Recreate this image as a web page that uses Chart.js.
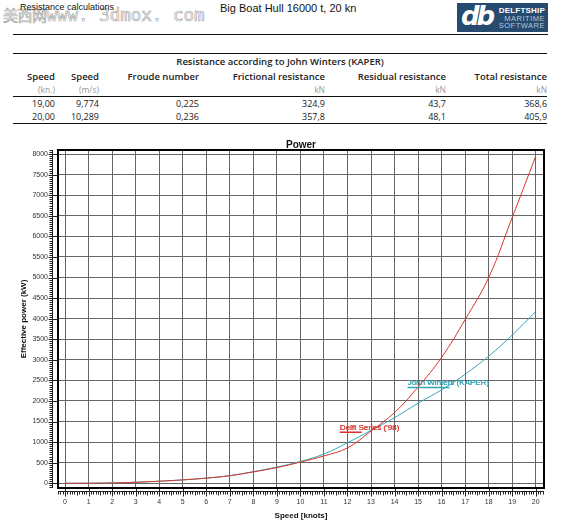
<!DOCTYPE html>
<html>
<head>
<meta charset="utf-8">
<title>Power</title>
<script src="https://cdn.jsdelivr.net/npm/chart.js@4.4.0/dist/chart.umd.min.js"></script>
<style>
  html, body { margin: 0; padding: 0; background: #fff; }
  body { width: 567px; height: 525px; position: relative; overflow: hidden; font-family: "Open Sans", sans-serif; color: #222; }
  .abs { position: absolute; white-space: nowrap; }
  #wm { left: 3px; top: 2px; height: 26px; line-height: 26px; color: transparent; -webkit-text-stroke: 0.7px #aaa; }
  #wm .cjk { font-family: "Noto Sans CJK SC", sans-serif; font-size: 15px; letter-spacing: -0.5px; vertical-align: top; }
  #wm .lat { font-family: "DejaVu Sans Mono", monospace; font-size: 17.5px; vertical-align: top; }
  #docTitle { left: 20px; top: 1px; font-family: "Liberation Sans", Arial, sans-serif; font-size: 9px; line-height: 12px; color: #111; }
  #hullTitle { left: 220px; top: 2px; font-family: "Liberation Sans", Arial, sans-serif; font-size: 11px; line-height: 13px; color: #111; }
  #logo { left: 457px; top: 3px; width: 91px; height: 29px; background: #264b6f; }
  #logo .db { position: absolute; left: 4px; top: -3px; font-family: "DejaVu Sans", sans-serif; font-weight: bold; font-style: italic;
              font-size: 26px; line-height: 32px; color: #fff; letter-spacing: -3px; }
  #logo .t { position: absolute; right: 3px; font-family: "Liberation Sans", Arial, sans-serif; font-size: 7.5px; line-height: 8px; letter-spacing: 0.5px; }
  #logo .t1 { top: 4px; color: #fff; font-weight: bold; font-size: 8px; letter-spacing: 0.2px; }
  #logo .t2 { top: 11.5px; color: #b4c6d9; }
  #logo .t3 { top: 19px; color: #b4c6d9; }
  #headLine { left: 13px; top: 33.5px; width: 535px; height: 1.5px; background: #111; }

  #res { position: absolute; left: 13px; top: 52.5px; border-collapse: collapse; table-layout: fixed; width: 534px;
         border-top: 1.5px solid #111; border-bottom: 1.5px solid #111; }
  #res th, #res td { padding: 0; text-align: right; white-space: nowrap; vertical-align: middle; }
  #res tr.title th { text-align: center; font-weight: 600; font-size: 9.5px; height: 15px; line-height: 15px; }
  #res tr.head th { font-weight: 600; font-size: 9.5px; height: 15.5px; line-height: 15.5px; }
  #res tr.units td { color: #9a9a9a; font-size: 8.5px; height: 12px; line-height: 12px; border-bottom: 1px solid #111; }
  #res tbody td { font-size: 9px; height: 13px; line-height: 13px; color: #222; }

  #chartBox { position: absolute; left: 0; top: 135px; width: 567px; height: 390px; }
</style>
</head>
<body>
  <div class="abs" id="wm"><span class="cjk">美西网</span><span class="lat">www. 3dmox. com</span></div>
  <div class="abs" id="docTitle">Resistance calculations</div>
  <div class="abs" id="hullTitle">Big Boat Hull 16000 t, 20 kn</div>
  <div class="abs" id="logo">
    <span class="db">db</span>
    <span class="t t1">DELFTSHIP</span>
    <span class="t t2">MARITIME</span>
    <span class="t t3">SOFTWARE</span>
  </div>
  <div class="abs" id="headLine"></div>

  <table id="res">
    <colgroup>
      <col style="width:42px"><col style="width:44px"><col style="width:100px">
      <col style="width:126px"><col style="width:121px"><col style="width:101px">
    </colgroup>
    <thead>
      <tr class="title"><th colspan="6">Resistance according to John Winters (KAPER)</th></tr>
      <tr class="head" id="headRow"></tr>
      <tr class="units" id="unitRow"></tr>
    </thead>
    <tbody id="rows"></tbody>
  </table>

  <div id="chartBox"><canvas id="powerChart"></canvas></div>

<script>
// Table data
const tableHeads = ['Speed', 'Speed', 'Froude number', 'Frictional resistance', 'Residual resistance', 'Total resistance'];
const tableUnits = ['(kn.)', '(m/s)', '', 'kN', 'kN', 'kN'];
const tableSpeedKn = ['19,00', '20,00'];
const tableSpeedMs = ['9,774', '10,289'];
const tableFroude = ['0,225', '0,236'];
const tableFrictional = ['324,9', '357,8'];
const tableResidual = ['43,7', '48,1'];
const tableTotal = ['368,6', '405,9'];

// Chart data: effective power (kW) per speed (knots)
const speeds = [0, 1, 2, 3, 4, 5, 6, 7, 8, 9, 10, 11, 12, 13, 14, 15, 16, 17, 18, 19, 20];
const delftPower = [0, 1, 8, 25, 50, 82, 125, 183, 276, 380, 515, 665, 860, 1270, 1720, 2340, 3060, 3980, 5000, 6460, 7950];
const wintersPower = [0, 1, 8, 25, 50, 82, 125, 187, 283, 395, 530, 712, 985, 1285, 1595, 1945, 2270, 2650, 3090, 3603, 4176];
const xTickValues = [0, 1, 2, 3, 4, 5, 6, 7, 8, 9, 10, 11, 12, 13, 14, 15, 16, 17, 18, 19, 20];
const yTickValues = [0, 500, 1000, 1500, 2000, 2500, 3000, 3500, 4000, 4500, 5000, 5500, 6000, 6500, 7000, 7500, 8000];

const delftColor = '#d9352b';
const wintersColor = '#33a6b6';

// Build table
document.getElementById('headRow').innerHTML = tableHeads.map(h => `<th>${h}</th>`).join('');
document.getElementById('unitRow').innerHTML = tableUnits.map(u => `<td>${u}</td>`).join('');
const rowsBody = document.getElementById('rows');
tableSpeedKn.forEach((kn, i) => {
  const tr = document.createElement('tr');
  tr.innerHTML = `
    <td>${kn}</td>
    <td>${tableSpeedMs[i]}</td>
    <td>${tableFroude[i]}</td>
    <td>${tableFrictional[i]}</td>
    <td>${tableResidual[i]}</td>
    <td>${tableTotal[i]}</td>
  `;
  rowsBody.appendChild(tr);
});

// Plot frame, rulers with minor ticks, and the curve labels
const framePlugin = {
  id: 'frame',
  afterDraw(chart) {
    const { ctx, chartArea: a, scales: { x, y } } = chart;
    ctx.save();
    ctx.strokeStyle = '#222';
    ctx.lineWidth = 1;

    // x ruler under the plot
    const ry = a.bottom + 3.5;
    ctx.beginPath();
    ctx.moveTo(a.left, ry);
    ctx.lineTo(a.right, ry);
    for (let k = Math.ceil(x.min * 10); k <= Math.floor(x.max * 10); k++) {
      const px = Math.round(x.getPixelForValue(k / 10)) + 0.5;
      if (k % 10 === 0) {
        ctx.moveTo(px, a.bottom);
        ctx.lineTo(px, ry + 5);
      } else {
        ctx.moveTo(px, ry);
        ctx.lineTo(px, ry + (k % 5 === 0 ? 4 : 3));
      }
    }
    ctx.stroke();

    // y ruler left of the plot
    const rx = a.left - 5.5;
    ctx.beginPath();
    ctx.moveTo(rx, a.top);
    ctx.lineTo(rx, a.bottom);
    for (let k = Math.ceil(y.min / 50); k <= Math.floor(y.max / 50); k++) {
      const py = Math.round(y.getPixelForValue(k * 50)) + 0.5;
      if (k % 10 === 0) {
        ctx.moveTo(rx - 4, py);
        ctx.lineTo(a.left, py);
      } else {
        ctx.moveTo(rx - 3, py);
        ctx.lineTo(rx, py);
      }
    }
    ctx.stroke();

    // frame
    ctx.strokeStyle = '#000';
    ctx.lineWidth = 2;
    ctx.strokeRect(a.left, a.top, a.right - a.left, a.bottom - a.top);

    // curve labels
    const labels = chart.options.plugins.frame.labels;
    ctx.font = '8px "Liberation Sans", Arial, sans-serif';
    ctx.textBaseline = 'middle';
    ctx.textAlign = 'left';
    labels.forEach(l => {
      const px = x.getPixelForValue(l.x);
      const py = y.getPixelForValue(l.y);
      ctx.fillStyle = l.color;
      ctx.fillText(l.text, px, py);
      ctx.fillText(l.text, px + 0.4, py);
      ctx.strokeStyle = l.color;
      ctx.lineWidth = 1.5;
      ctx.beginPath();
      ctx.moveTo(px, py + 4.5);
      ctx.lineTo(px + l.lineLen, py + 4.5);
      ctx.stroke();
    });
    ctx.restore();
  }
};

const toPoints = (xs, ys) => xs.map((v, i) => ({ x: v, y: ys[i] }));

new Chart(document.getElementById('powerChart').getContext('2d'), {
  type: 'line',
  data: {
    datasets: [
      {
        label: "Delft Series ('98)",
        data: toPoints(speeds, delftPower),
        borderColor: delftColor,
        borderWidth: 1,
        pointRadius: 0,
        tension: 0.4,
        fill: false
      },
      {
        label: 'John Winters (KAPER)',
        data: toPoints(speeds, wintersPower),
        borderColor: wintersColor,
        borderWidth: 1,
        pointRadius: 0,
        tension: 0.4,
        fill: false
      }
    ]
  },
  options: {
    responsive: true,
    maintainAspectRatio: false,
    animation: false,
    devicePixelRatio: 1,
    layout: { padding: { left: 0, right: 23, top: 0, bottom: 0 } },
    plugins: {
      legend: { display: false },
      tooltip: { enabled: false },
      title: {
        display: true,
        fullSize: false,
        text: 'Power',
        color: '#111',
        font: { family: '"Liberation Sans", Arial, sans-serif', size: 10, weight: 'bold', lineHeight: 1 },
        padding: { top: 5, bottom: 0 }
      },
      frame: {
        labels: [
          { text: 'John Winters (KAPER)', x: 14.55, y: 2440, color: wintersColor, lineLen: 42 },
          { text: "Delft Series ('98)", x: 11.67, y: 1350, color: delftColor, lineLen: 22 }
        ]
      }
    },
    scales: {
      x: {
        type: 'linear',
        min: -0.3,
        max: 20.35,
        afterFit: scale => { scale.height = 37; },
        afterBuildTicks: scale => { scale.ticks = xTickValues.map(v => ({ value: v })); },
        grid: { color: '#666', lineWidth: 1, drawTicks: false },
        border: { display: false },
        ticks: {
          padding: 10,
          color: '#333',
          font: { family: '"Liberation Sans", Arial, sans-serif', size: 7 },
          callback: v => String(v)
        },
        title: {
          display: true,
          text: 'Speed [knots]',
          color: '#111',
          font: { family: '"Liberation Sans", Arial, sans-serif', size: 8, weight: 'bold' },
          padding: { top: 0, bottom: 4 }
        }
      },
      y: {
        type: 'linear',
        min: -115,
        max: 8100,
        afterFit: scale => { scale.width = 58; },
        afterBuildTicks: scale => { scale.ticks = yTickValues.map(v => ({ value: v })); },
        grid: { color: '#666', lineWidth: 1, drawTicks: false },
        border: { display: false },
        ticks: {
          padding: 10,
          color: '#333',
          font: { family: '"Liberation Sans", Arial, sans-serif', size: 7 },
          callback: v => String(v)
        },
        title: {
          display: true,
          text: 'Effective power (kW)',
          color: '#111',
          font: { family: '"Liberation Sans", Arial, sans-serif', size: 8, weight: 'bold' },
          padding: { top: 19, bottom: 0 }
        }
      }
    }
  },
  plugins: [framePlugin]
});
</script>
</body>
</html>
